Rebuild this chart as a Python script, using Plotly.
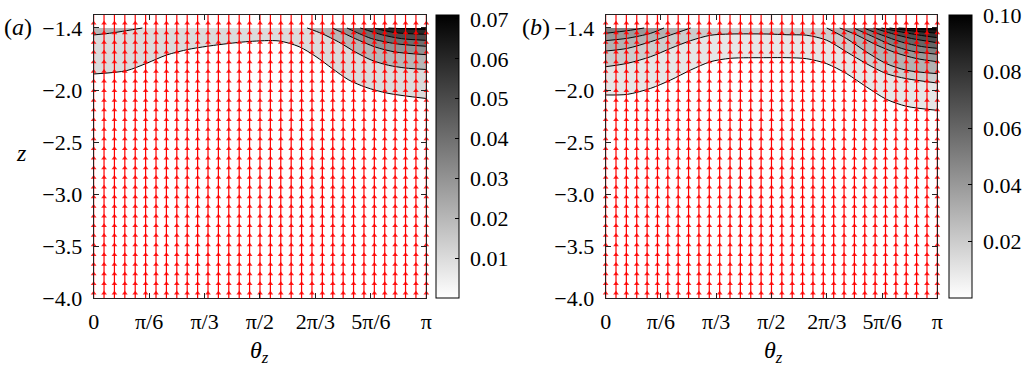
import numpy as np
import plotly.graph_objects as go

PI = np.pi
FONT = "Liberation Serif"
W, H = 1027, 369
Z_BOT, Z_AX_TOP, Z_DATA_TOP = -4.0, -1.275, -1.4


def px(X):
    return X / W


def py(Y):
    return 1 - Y / H


# ---------------- panel (a): contour lines ----------------
a_cmax = 0.071
a01_theta = [0.0, 0.31, 0.50, 0.69, 0.90, 1.16, 1.47, 1.75, 1.94, 2.10, 2.25, 2.41, 2.57, 2.78, PI]
a01_z = [-1.843, -1.811, -1.740, -1.660, -1.605, -1.564, -1.530, -1.525, -1.580, -1.676, -1.788, -1.901, -1.971, -2.029, -2.079]
a02L_theta = [0.0, 0.15, 0.31, 0.46]
a02L_z = [-1.467, -1.451, -1.426, -1.400]
a02R_theta = [2.016, 2.157, 2.314, 2.471, 2.627, 2.784, 2.941, PI]
a02R_z = [-1.400, -1.455, -1.535, -1.631, -1.711, -1.759, -1.785, -1.800]
a03_theta = [2.251, 2.36, 2.471, 2.659, 2.847, PI]
a03_z = [-1.400, -1.450, -1.503, -1.583, -1.631, -1.657]
a04_theta = [2.392, 2.51, 2.627, 2.847, PI]
a04_z = [-1.400, -1.455, -1.503, -1.551, -1.576]
a05_theta = [2.518, 2.721, 2.909, PI]
a05_z = [-1.400, -1.465, -1.503, -1.519]
a06_theta = [2.643, 2.847, PI]
a06_z = [-1.400, -1.445, -1.461]
a07_theta = [2.784, 2.97, PI]
a07_z = [-1.400, -1.410, -1.415]

# ---------------- panel (b) ----------------
b_cmax = 0.10
b_theta_full = [0.0, 0.207, 0.427, 0.616, 0.805, 0.993, 1.182, 1.528, 1.717, 1.905, 2.094, 2.283, 2.471, 2.660, 2.849, PI]
b01_z = [-2.045, -2.039, -1.981, -1.901, -1.805, -1.725, -1.692, -1.686, -1.686, -1.696, -1.744, -1.840, -1.968, -2.087, -2.154, -2.193]
b02_z = [-1.773, -1.740, -1.676, -1.596, -1.522, -1.470, -1.458, -1.458, -1.465, -1.470, -1.518, -1.631, -1.744, -1.840, -1.888, -1.930]
b03L_theta = [0.0, 0.207, 0.427, 0.616, 0.805]
b03L_z = [-1.622, -1.596, -1.532, -1.467, -1.400]
b03R_theta = [2.094, 2.283, 2.471, 2.660, 2.849, PI]
b03R_z = [-1.400, -1.503, -1.631, -1.744, -1.807, -1.840]
b04L_theta = [0.0, 0.207, 0.427, 0.553]
b04L_z = [-1.522, -1.499, -1.451, -1.400]
b04R_theta = [2.217, 2.377, 2.566, 2.755, 2.943, PI]
b04R_z = [-1.400, -1.467, -1.564, -1.641, -1.694, -1.725]
b05L_theta = [0.0, 0.207, 0.365]
b05L_z = [-1.451, -1.426, -1.400]
b05R_theta = [2.349, 2.519, 2.708, 2.896, PI]
b05R_z = [-1.400, -1.477, -1.564, -1.622, -1.653]
b06_theta = [2.443, 2.613, 2.802, 2.991, PI]
b06_z = [-1.400, -1.467, -1.535, -1.578, -1.596]
b07_theta = [2.538, 2.708, 2.896, PI]
b07_z = [-1.400, -1.453, -1.501, -1.542]
b08_theta = [2.613, 2.802, 2.991, PI]
b08_z = [-1.400, -1.439, -1.472, -1.493]
b09_theta = [2.689, 2.896, PI]
b09_z = [-1.400, -1.427, -1.451]
b10_theta = [2.774, 2.95, PI]
b10_z = [-1.400, -1.410, -1.419]

# ---------------- quiver grid (vertical, upward flow) ----------------
arrow_cols = [k * PI / 32 for k in range(33)]
arrow_rows = [-3.955 + j * 2.6 / 28 for j in range(30)]

# ticks
x_tickvals = [0, PI / 6, PI / 3, PI / 2, 2 * PI / 3, 5 * PI / 6, PI]
x_ticktext = ["0", "π/6", "π/3", "π/2", "2π/3", "5π/6", "π"]
y_tickvals = [-4.0, -3.5, -3.0, -2.5, -2.0, -1.4]
y_ticktext = ["−4.0", "−3.5", "−3.0", "−2.5", "−2.0", "−1.4"]
a_cb_ticks = [0.01, 0.02, 0.03, 0.04, 0.05, 0.06, 0.07]
b_cb_ticks = [0.02, 0.04, 0.06, 0.08, 0.10]

a_pieces = [(0.01, a01_theta, a01_z), (0.02, a02L_theta, a02L_z), (0.02, a02R_theta, a02R_z),
            (0.03, a03_theta, a03_z), (0.04, a04_theta, a04_z), (0.05, a05_theta, a05_z),
            (0.06, a06_theta, a06_z), (0.07, a07_theta, a07_z)]
b_pieces = [(0.01, b_theta_full, b01_z), (0.02, b_theta_full, b02_z),
            (0.03, b03L_theta, b03L_z), (0.03, b03R_theta, b03R_z),
            (0.04, b04L_theta, b04L_z), (0.04, b04R_theta, b04R_z),
            (0.05, b05L_theta, b05L_z), (0.05, b05R_theta, b05R_z),
            (0.06, b06_theta, b06_z), (0.07, b07_theta, b07_z), (0.08, b08_theta, b08_z),
            (0.09, b09_theta, b09_z), (0.10, b10_theta, b10_z)]

fig = go.Figure()


def add_panel(pieces, cmax, xa, ya):
    for level, th, zz in pieces:
        g = int(round(255 * (1 - level / cmax)))
        fig.add_trace(go.Scatter(x=[th[0], th[-1]], y=[Z_DATA_TOP, Z_DATA_TOP], mode="lines",
                                 line=dict(color="rgba(0,0,0,0)", width=0.5), hoverinfo="skip",
                                 showlegend=False, xaxis=xa, yaxis=ya))
        fig.add_trace(go.Scatter(x=th, y=zz, mode="lines",
                                 line=dict(color="black", width=1, shape="spline", smoothing=0.8),
                                 fill="tonexty", fillcolor=f"rgb({g},{g},{g})", hoverinfo="skip",
                                 showlegend=False, xaxis=xa, yaxis=ya))
    lx, ly = [], []
    for t in arrow_cols:
        lx += [t, t, None]
        ly += [Z_BOT, Z_AX_TOP, None]
    fig.add_trace(go.Scatter(x=lx, y=ly, mode="lines", line=dict(color="#ff0000", width=1.2),
                             hoverinfo="skip", showlegend=False, cliponaxis=False, xaxis=xa, yaxis=ya))
    mx, my = [], []
    for t in arrow_cols:
        for r in arrow_rows:
            if r <= Z_AX_TOP:
                mx.append(t)
                my.append(r)
    fig.add_trace(go.Scatter(x=mx, y=my, mode="markers",
                             marker=dict(symbol="triangle-up", size=5, color="rgba(255,0,0,0.85)", line=dict(width=0)),
                             hoverinfo="skip", showlegend=False, cliponaxis=False, xaxis=xa, yaxis=ya))


add_panel(a_pieces, a_cmax, "x", "y")
add_panel(b_pieces, b_cmax, "x2", "y2")

y0, y1 = py(298), py(15)
cb_common = dict(xanchor="left", y=(y0 + y1) / 2, yanchor="middle", len=(y1 - y0), lenmode="fraction",
                 thickness=23, thicknessmode="pixels", outlinecolor="black", outlinewidth=1,
                 ticks="inside", ticklen=4, tickcolor="black", xpad=0, ypad=0, borderwidth=0,
                 ticklabeloverflow="allow",
                 tickfont=dict(family=FONT, size=22, color="black"))
gray = [[0, "white"], [1, "black"]]
fig.add_trace(go.Scatter(x=[1.0], y=[-10], mode="markers", showlegend=False, hoverinfo="skip",
                         marker=dict(color=[0.0], cmin=0, cmax=a_cmax, colorscale=gray, size=1, showscale=True,
                                     colorbar=dict(x=px(438), tickvals=a_cb_ticks,
                                                   ticktext=["\u2005" + f"{v:.2f}" for v in a_cb_ticks], **cb_common)),
                         xaxis="x", yaxis="y"))
fig.add_trace(go.Scatter(x=[1.0], y=[-10], mode="markers", showlegend=False, hoverinfo="skip",
                         marker=dict(color=[0.0], cmin=0, cmax=b_cmax, colorscale=gray, size=1, showscale=True,
                                     colorbar=dict(x=px(953), tickvals=b_cb_ticks,
                                                   ticktext=["\u2005" + f"{v:.2f}" for v in b_cb_ticks], **cb_common)),
                         xaxis="x2", yaxis="y2"))

ax_common = dict(showline=True, linecolor="#222", linewidth=1, mirror="ticks", ticks="inside", ticklen=5,
                 tickcolor="#222", showgrid=False, zeroline=False, automargin=False,
                 tickfont=dict(family=FONT, size=22, color="black"))
fig.update_layout(
    template="none", width=W, height=H, margin=dict(l=0, r=0, t=0, b=0),
    paper_bgcolor="white", plot_bgcolor="white", showlegend=False,
    xaxis=dict(domain=[px(94), px(428)], range=[0, PI], tickvals=x_tickvals, ticktext=x_ticktext,
               anchor="y", ticklabelstandoff=4, **ax_common),
    yaxis=dict(domain=[y0, y1], range=[Z_BOT, Z_AX_TOP], tickvals=y_tickvals, ticktext=y_ticktext,
               anchor="x", ticklabelstandoff=6, **ax_common),
    xaxis2=dict(domain=[px(608), px(941)], range=[0, PI], tickvals=x_tickvals, ticktext=x_ticktext,
                anchor="y2", ticklabelstandoff=4, **ax_common),
    yaxis2=dict(domain=[y0, y1], range=[Z_BOT, Z_AX_TOP], tickvals=y_tickvals, ticktext=y_ticktext,
                anchor="x2", ticklabelstandoff=6, **ax_common),
)

ann_font = dict(family=FONT, size=24, color="black")
for txt, x, y in [("<i>z</i>", 22, 153), ("<i>θ<sub>z</sub></i>", 261, 352), ("<i>θ<sub>z</sub></i>", 777, 352),
                  ("(<i>a</i>)", 18, 27), ("(<i>b</i>)", 538, 27)]:
    fig.add_annotation(text=txt, x=px(x), y=py(y), xref="paper", yref="paper", showarrow=False,
                       xanchor="center", yanchor="middle", font=ann_font)

# remove the browser's default 8px page margin so the figure sits at the window's corner
fig.write_html("out.html", config={"displayModeBar": False},
               post_script="document.body.style.margin='0px';")
